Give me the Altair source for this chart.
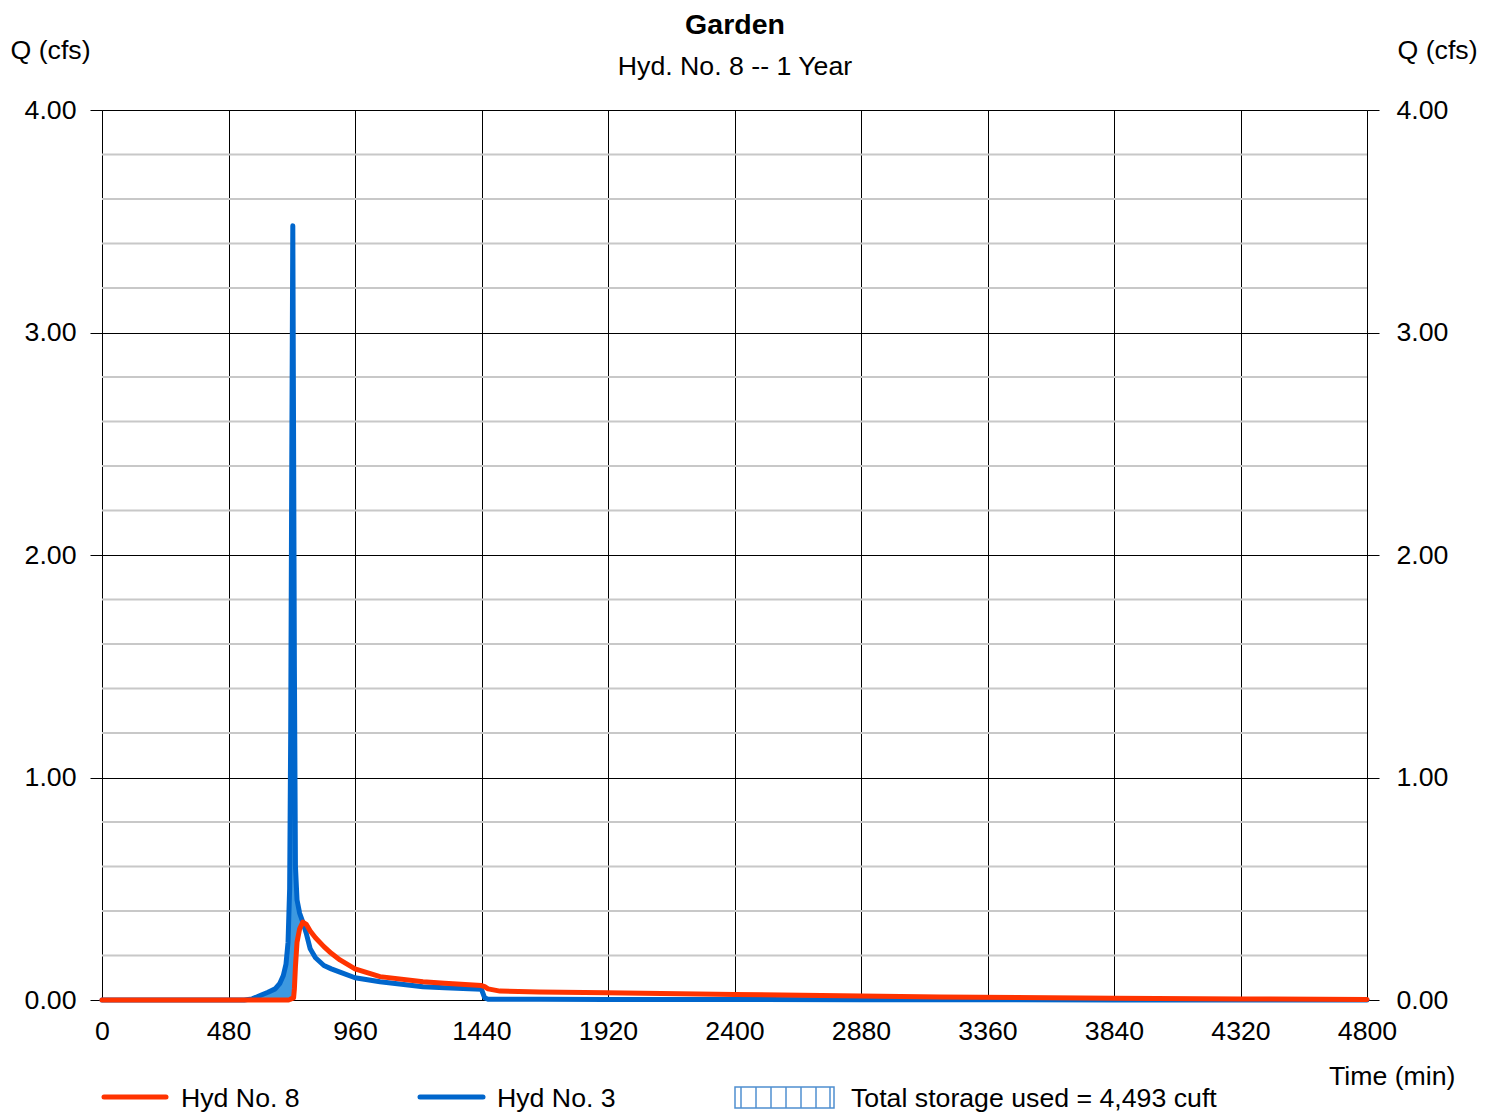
import altair as alt
import pandas as pd

# ---------------- data ----------------
time_min = [0, 540, 570, 600, 630, 657, 675, 688, 698, 706, 712, 716, 720, 724,
            727, 730, 734, 740, 750, 762, 775, 790, 810, 842, 870, 903, 960,
            1055, 1218, 1300, 1440, 1452, 1465, 1510, 1660, 1915, 2400, 2880,
            3180, 3840, 4320, 4800]
hyd3_cfs = [0, 0, 0.005, 0.02, 0.035, 0.05, 0.075, 0.11, 0.16, 0.26, 0.5, 1.2,
            2.4, 3.48, 2.5, 1.5, 0.6, 0.45, 0.39, 0.35, 0.30, 0.23, 0.19, 0.155,
            0.14, 0.125, 0.10, 0.082, 0.06, 0.055, 0.048, 0.01, 0.003, 0.003,
            0.003, 0.002, 0.002, 0.001, 0.001, 0.0005, 0.0002, 0]
hyd8_cfs = [0, 0, 0, 0, 0, 0, 0, 0, 0, 0, 0.002, 0.004, 0.006, 0.008, 0.01,
            0.05, 0.15, 0.26, 0.32, 0.35, 0.34, 0.31, 0.28, 0.24, 0.21, 0.18,
            0.14, 0.105, 0.082, 0.075, 0.065, 0.06, 0.05, 0.04, 0.036, 0.033,
            0.025, 0.018, 0.014, 0.008, 0.005, 0.002]
storage_end_min = 762

x_ticks = [0, 480, 960, 1440, 1920, 2400, 2880, 3360, 3840, 4320, 4800]
y_ticks = [0, 1, 2, 3, 4]
minor_levels = [0.2, 0.4, 0.6, 0.8, 1.2, 1.4, 1.6, 1.8, 2.2, 2.4, 2.6, 2.8,
                3.2, 3.4, 3.6, 3.8]

title_text = "Garden"
subtitle_text = "Hyd. No. 8 -- 1 Year"
y_title = "Q (cfs)"
x_title = "Time (min)"
legend_labels = ["Hyd No. 8", "Hyd No. 3", "Total storage used = 4,493 cuft"]

# ---------------- styling ----------------
FONT = "Liberation Sans"
RED = "#ff3300"
BLUE = "#0066cc"
FILL = "#3d99e0"
HATCH = "#4f8fd0"
FS = 26.7

df = pd.DataFrame({"t": time_min, "hyd3": hyd3_cfs, "hyd8": hyd8_cfs})
minor_df = pd.DataFrame({"q": minor_levels})

x_scale = alt.Scale(domain=[0, 4800], nice=False, zero=False)
y_scale = alt.Scale(domain=[0, 4], nice=False)

x_axis = alt.Axis(values=x_ticks, format="d", grid=True, gridColor="black",
                  gridWidth=1, ticks=False, tickSize=0, labelPadding=18,
                  labelFlush=False, labelOverlap=False, labelFontSize=FS,
                  labelFont=FONT, labelColor="black", domainColor="black",
                  domainWidth=1, title=x_title, titleFont=FONT, titleFontSize=FS,
                  titleFontWeight="normal", titleColor="black", titleX=1353,
                  titleY=84, titleAlign="right", titleBaseline="alphabetic")

left_axis = alt.Axis(orient="left", values=y_ticks, format=".2f", grid=True,
                     gridColor="black", gridWidth=1, tickSize=12,
                     tickColor="black", labelPadding=14, labelFlush=False,
                     labelOverlap=False,
                     labelFontSize=FS, labelFont=FONT, labelColor="black",
                     domainColor="black", domainWidth=1, title=y_title,
                     titleFont=FONT, titleFontSize=FS, titleFontWeight="normal",
                     titleColor="black", titleAngle=0, titleX=-92, titleY=-52,
                     titleAlign="left", titleBaseline="alphabetic")

right_axis = alt.Axis(orient="right", values=y_ticks, format=".2f", grid=False,
                      tickSize=12, tickColor="black", labelPadding=17,
                      labelFlush=False, labelOverlap=False,
                      labelFontSize=FS, labelFont=FONT,
                      labelColor="black", domainColor="black", domainWidth=1,
                      title=y_title, titleFont=FONT, titleFontSize=FS,
                      titleFontWeight="normal", titleColor="black", titleAngle=0,
                      titleX=30, titleY=-52, titleAlign="left",
                      titleBaseline="alphabetic")

X = alt.X("t:Q", scale=x_scale, axis=x_axis)

minor = alt.Chart(minor_df).mark_rule(color="#c8c8c8", strokeWidth=2).encode(
    y=alt.Y("q:Q", scale=y_scale, axis=left_axis)
)

area = alt.Chart(df).transform_filter(alt.datum.t <= storage_end_min).mark_area(
    color=FILL, opacity=1
).encode(
    x=X,
    y=alt.Y("hyd3:Q", scale=y_scale, axis=left_axis),
    y2=alt.Y2("hyd8:Q"),
)

blue = alt.Chart(df).mark_line(color=BLUE, strokeWidth=5, strokeCap="round",
                               strokeJoin="round").encode(
    x=X, y=alt.Y("hyd3:Q", scale=y_scale, axis=left_axis)
)

# ---------------- titles and legend (annotation) ----------------
def text_layer(txt, x, y, size=FS, weight="normal", align="left"):
    return alt.Chart(pd.DataFrame({"s": [txt]})).mark_text(
        font=FONT, fontSize=size, fontWeight=weight, align=align,
        baseline="alphabetic", color="black"
    ).encode(text="s:N", x=alt.value(x), y=alt.value(y))

one = pd.DataFrame({"a": [0]})

def leg_line(color, x1, x2, y):
    return alt.Chart(one).mark_rule(color=color, strokeWidth=5,
                                    strokeCap="round").encode(
        x=alt.value(x1), x2=alt.value(x2), y=alt.value(y))

hatch_box = alt.Chart(one).mark_rect(fillOpacity=0, stroke=HATCH,
                                     strokeWidth=1.5).encode(
    x=alt.value(633), x2=alt.value(732), y=alt.value(977), y2=alt.value(998))
hatch_lines = alt.Chart(pd.DataFrame({"px": [639, 654, 669, 684, 699, 714, 728]})).mark_rule(
    color=HATCH, strokeWidth=1.5).encode(
    x=alt.X("px:Q", scale=None), y=alt.value(977), y2=alt.value(998))

annot = [
    text_layer(title_text, 633, -76, size=28.5, weight="bold", align="center"),
    text_layer(subtitle_text, 633, -35, align="center"),
    leg_line(RED, 2, 64, 987),
    text_layer(legend_labels[0], 79, 997),
    leg_line(BLUE, 318, 381, 987),
    text_layer(legend_labels[1], 395, 997),
    hatch_box, hatch_lines,
    text_layer(legend_labels[2], 749, 997),
]

main = alt.layer(minor, area, blue, *annot)

red = alt.Chart(df).mark_line(color=RED, strokeWidth=5, strokeCap="round",
                              strokeJoin="round").encode(
    x=X, y=alt.Y("hyd8:Q", scale=y_scale, axis=right_axis)
)

chart = alt.layer(main, red).resolve_scale(y="independent").properties(
    width=1265, height=890,
    autosize=alt.AutoSizeParams(type="none"),
    padding={"left": 94, "top": 102, "right": 119, "bottom": 116},
    background="white",
).configure_view(stroke=None)

chart.save("out.html", embed_options={"renderer": "svg", "actions": False})
